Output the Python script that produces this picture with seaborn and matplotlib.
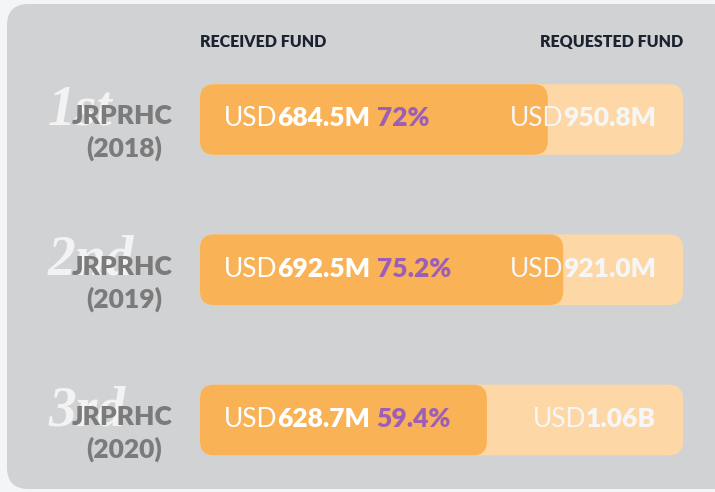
import pandas as pd
import matplotlib
matplotlib.use("Agg")
import matplotlib.pyplot as plt
import seaborn as sns
from matplotlib.patches import FancyBboxPatch

# Dados
ordinais = ["1st", "2nd", "3rd"]
anos = ["2018", "2019", "2020"]
recebido = ["684.5M", "692.5M", "628.7M"]
solicitado = ["950.8M", "921.0M", "1.06B"]
percentual = [72.0, 75.2, 59.4]

dados = pd.DataFrame({
    "plano": ["JRPRHC (" + a + ")" for a in anos],
    "total": [100.0] * 3,
    "recebido": percentual,
})

sns.set_theme(style="white")
plt.rcParams["font.family"] = ["Lato", "DejaVu Sans"]

W, H = 715, 492
fig = plt.figure(figsize=(W / 100, H / 100), dpi=100)
fig.patch.set_facecolor("#f4f5f7")

# painel cinza
painel = FancyBboxPatch((7 / W, 3 / H), (W + 20 - 7) / W, (488 - 3) / H,
                        boxstyle="round,pad=0,rounding_size=0.03",
                        mutation_aspect=W / H,
                        transform=fig.transFigure, facecolor="#d1d2d4",
                        edgecolor="none", zorder=-10)
fig.patches.append(painel)

ax = fig.add_axes([0, 0, 1, 1])
ax.patch.set_alpha(0)

# escala: 0..100 -> pixels 200..683
x0, x1 = 200, 683
px_x = (x1 - x0) / 100
y_c0, y_c2 = 119.5, 420.0
px_y = (y_c2 - y_c0) / 2

sns.barplot(x="total", y="plano", data=dados, color="#fdd8a6", width=0.47,
            saturation=1, ax=ax)
sns.barplot(x="recebido", y="plano", data=dados, color="#f9b255", width=0.47,
            saturation=1, ax=ax)

ax.set_xlim(-x0 / px_x, (W - x0) / px_x)
ax.set_ylim((H - y_c0) / px_y, -y_c0 / px_y)
ax.set_axis_off()

# cantos arredondados
raio = 14 / px_x
for p in list(ax.patches):
    bx, by, bw, bh = p.get_x(), p.get_y(), p.get_width(), p.get_height()
    novo = FancyBboxPatch((bx, by), bw, bh,
                          boxstyle=f"round,pad=0,rounding_size={raio}",
                          mutation_aspect=px_x / px_y,
                          facecolor=p.get_facecolor(), edgecolor="none",
                          zorder=p.get_zorder())
    p.remove()
    ax.add_patch(novo)


def px(xp):
    return (xp - x0) / px_x


# cabeçalhos
y_cab = (42 - y_c0) / px_y
ax.text(0, y_cab, "RECEIVED FUND", fontsize=11.5, fontweight="heavy",
        color="#1c2330", ha="left", va="center")
ax.text(100, y_cab, "REQUESTED FUND", fontsize=11.5, fontweight="heavy",
        color="#1c2330", ha="right", va="center")

fig.canvas.draw()
rend = fig.canvas.get_renderer()


def texto_misto(xp, y, partes, ha="left"):
    # partes: lista de (texto, peso, cor)
    objs = []
    for t, peso, cor in partes:
        objs.append(ax.text(0, y, t, fontsize=19, fontweight=peso, color=cor,
                            va="baseline", ha="left"))
    larguras = [o.get_window_extent(rend).width for o in objs]
    total = sum(larguras)
    pos = xp if ha == "left" else xp - total
    for o, w in zip(objs, larguras):
        o.set_x(px(pos))
        pos += w


for i in range(3):
    base = i + 5 / px_y
    # ordinal ao fundo
    ax.text(px(48), base, ordinais[i], fontsize=40,
            family="Liberation Serif", fontweight="bold", style="italic",
            color="#f3f3f3", ha="left", va="baseline", zorder=3)
    ax.text(px(122), base, "JRPRHC", fontsize=19,
            fontweight="heavy", color="#7b7b7b", ha="center", va="baseline",
            zorder=4)
    ax.text(px(124), i + 37.5 / px_y, "(" + anos[i] + ")", fontsize=19,
            fontweight="heavy", color="#7b7b7b", ha="center", va="baseline",
            zorder=4)
    texto_misto(224, i + 7 / px_y,
                [("USD", "normal", "white"), (recebido[i], "heavy", "white"),
                 (" ", "heavy", "white"),
                 (f"{percentual[i]:g}%", "heavy", "#9c5fb5")])
    texto_misto(656, i + 7 / px_y,
                [("USD", "normal", "#f6f6f6"), (solicitado[i], "heavy", "#f6f6f6")],
                ha="right")

fig.savefig("out.png", dpi=100)
